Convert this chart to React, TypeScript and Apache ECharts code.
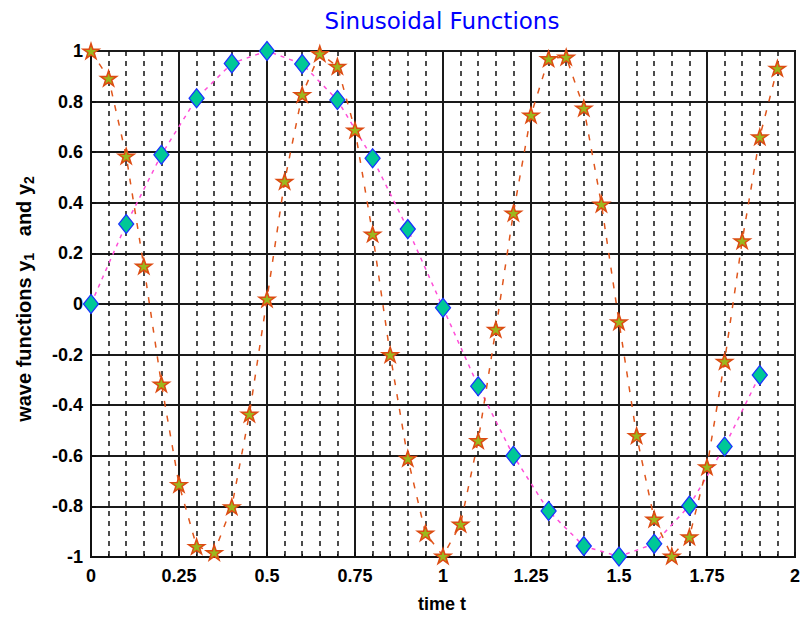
import React, { useEffect, useRef } from "react";
import * as echarts from "echarts";

// time samples and values of wave function y1 (diamonds)
const t1 = [0, 0.1, 0.2, 0.3, 0.4, 0.5, 0.6, 0.7, 0.8, 0.9, 1.0, 1.1, 1.2, 1.3, 1.4, 1.5, 1.6, 1.7, 1.8, 1.9];
const y1Values = [0, 0.316, 0.59, 0.813, 0.951, 1.0, 0.949, 0.806, 0.576, 0.296, -0.015, -0.325, -0.6, -0.818, -0.957, -0.998, -0.948, -0.797, -0.563, -0.281];

// time samples and values of wave function y2 (stars)
const t2 = [0, 0.05, 0.1, 0.15, 0.2, 0.25, 0.3, 0.35, 0.4, 0.45, 0.5, 0.55, 0.6, 0.65, 0.7, 0.75, 0.8, 0.85, 0.9, 0.95,
  1.0, 1.05, 1.1, 1.15, 1.2, 1.25, 1.3, 1.35, 1.4, 1.45, 1.5, 1.55, 1.6, 1.65, 1.7, 1.75, 1.8, 1.85, 1.9, 1.95];
const y2Values = [1.0, 0.892, 0.585, 0.15, -0.316, -0.713, -0.958, -0.982, -0.801, -0.435, 0.02, 0.485, 0.828, 0.99, 0.94, 0.688, 0.277, -0.2, -0.61, -0.905,
  -0.996, -0.87, -0.54, -0.1, 0.36, 0.747, 0.97, 0.976, 0.775, 0.395, -0.07, -0.52, -0.85, -0.996, -0.92, -0.643, -0.226, 0.25, 0.661, 0.932];

// axis ticks
const xTicks = [0, 0.25, 0.5, 0.75, 1, 1.25, 1.5, 1.75, 2];
const yTicks = [-1, -0.8, -0.6, -0.4, -0.2, 0, 0.2, 0.4, 0.6, 0.8, 1];

const titleText = "Sinusoidal Functions";
const xName = "time t";

const STAR =
  "path://M50,0 L61.23,34.55 L97.55,34.55 L68.17,55.9 L79.39,90.45 L50,69.1 L20.61,90.45 L31.83,55.9 L2.45,34.55 L38.77,34.55 Z";

const FONT = "'Liberation Sans', Arial, sans-serif";

export default function App() {
  const ref = useRef<HTMLDivElement>(null);
  useEffect(() => {
    if (!ref.current) return;
    const chart = echarts.init(ref.current, null, { renderer: "svg" });
    const xStep = xTicks[1] - xTicks[0];
    const yStep = yTicks[1] - yTicks[0];
    chart.setOption({
      animation: false,
      backgroundColor: "#ffffff",
      grid: {
        left: 91,
        right: 7,
        top: 51,
        bottom: 63,
        show: true,
        borderColor: "#111",
        borderWidth: 2,
        backgroundColor: "transparent",
      },
      xAxis: {
        type: "value",
        min: xTicks[0],
        max: xTicks[xTicks.length - 1],
        interval: xStep,
        axisLine: { show: true, onZero: false, lineStyle: { color: "#111", width: 2 } },
        axisTick: { show: true, inside: true, length: 5, lineStyle: { color: "#111", width: 2 } },
        minorTick: { show: true, splitNumber: 5, length: 3, lineStyle: { color: "#111" } },
        axisLabel: {
          color: "#000",
          fontFamily: FONT,
          fontWeight: "bold",
          fontSize: 18,
          margin: 10,
        },
        splitLine: { show: true, lineStyle: { color: "#1a1a1a", width: 2 } },
        minorSplitLine: { show: true, lineStyle: { color: "#111", width: 1.5, type: [5, 5] } },
      },
      yAxis: {
        type: "value",
        min: yTicks[0],
        max: yTicks[yTicks.length - 1],
        interval: yStep,
        axisLine: { show: true, onZero: false, lineStyle: { color: "#111", width: 2 } },
        axisTick: { show: true, inside: true, length: 5, lineStyle: { color: "#111", width: 2 } },
        axisLabel: {
          color: "#000",
          fontFamily: FONT,
          fontWeight: "bold",
          fontSize: 18,
          margin: 8,
          formatter: (v: number) => String(Math.round(v * 10) / 10),
        },
        splitLine: { show: true, lineStyle: { color: "#1a1a1a", width: 2 } },
      },
      graphic: [
        {
          type: "text",
          x: 442,
          y: 21,
          style: {
            text: titleText,
            fill: "#0000ff",
            font: "23px 'DejaVu Sans', Verdana, sans-serif",
            textAlign: "center",
            textVerticalAlign: "middle",
          },
        },
        {
          type: "text",
          x: 442,
          y: 604,
          style: {
            text: xName,
            fill: "#000",
            font: "bold 18px " + FONT,
            textAlign: "center",
            textVerticalAlign: "middle",
          },
        },
        {
          type: "text",
          x: 24,
          y: 299,
          rotation: Math.PI / 2,
          style: {
            text: "{n|wave functions y}{s|1}{n|   and y}{s|2}",
            fill: "#000",
            textAlign: "center",
            textVerticalAlign: "middle",
            rich: {
              n: { fontFamily: FONT, fontWeight: "bold", fontSize: 20, lineHeight: 24, fill: "#000" },
              s: { fontFamily: FONT, fontWeight: "bold", fontSize: 14, lineHeight: 11, verticalAlign: "bottom", fill: "#000" },
            },
          },
        },
      ],
      series: [
        {
          type: "line",
          name: "y1",
          data: t1.map((t, i) => [t, y1Values[i]]),
          symbol: "diamond",
          symbolSize: [15, 19],
          showAllSymbol: true,
          clip: false,
          z: 3,
          lineStyle: { color: "#ff4fd8", width: 1.5, type: [4, 5] },
          itemStyle: { color: "#00c896", borderColor: "#1a33ff", borderWidth: 1.3 },
        },
        {
          type: "line",
          name: "y2",
          data: t2.map((t, i) => [t, y2Values[i]]),
          symbol: STAR,
          symbolSize: [16, 15],
          showAllSymbol: true,
          clip: false,
          z: 4,
          lineStyle: { color: "#e0561c", width: 1.5, type: [6, 9] },
          itemStyle: { color: "#9bb81e", borderColor: "#dd4b12", borderWidth: 1.5 },
        },
      ],
    });
    return () => chart.dispose();
  }, []);
  return (
    <div
      ref={ref}
      style={{ position: "fixed", left: 0, top: 0, width: 803, height: 620, background: "#fff" }}
    />
  );
}
